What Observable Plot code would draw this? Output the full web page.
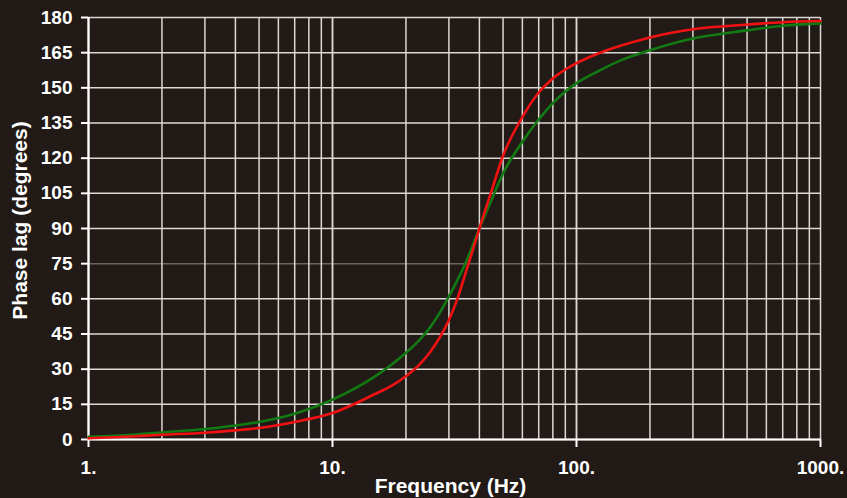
<!DOCTYPE html>
<html>
<head>
<meta charset="utf-8">
<script src="https://cdn.jsdelivr.net/npm/d3@7"></script>
<script src="https://cdn.jsdelivr.net/npm/@observablehq/plot@0.6"></script>
<style>
  html, body { margin: 0; padding: 0; background: #221a16; }
  #chart { width: 847px; height: 498px; overflow: hidden; }
</style>
</head>
<body>
<div id="chart"></div>
<script>
const freq = [1, 1.5, 2, 3, 4, 5, 7, 10, 15, 17.5, 20, 22.5, 25, 27.5, 30, 32.5, 35, 37.5, 40, 45, 50, 60, 70, 80, 100, 125, 150, 200, 300, 500, 700, 1000];
// Phase lag (degrees), red curve (sharper)
const redPhase = [0.5, 1.3, 2.0, 2.9, 3.9, 4.9, 7.5, 11.3, 19.5, 23, 27, 31.5, 37, 43.5, 51, 60, 70.5, 80.5, 90, 106.5, 121, 137.5, 148, 154, 160.5, 165, 167.8, 171.5, 175, 177, 178, 178.5];
// Phase lag (degrees), green curve (broader)
const greenPhase = [1.2, 2.0, 3.0, 4.5, 6.0, 7.5, 11, 17, 27, 32, 37, 42, 47.5, 54, 61, 68, 75, 82.5, 90, 102.5, 113.5, 127, 136.5, 143.5, 152, 157.5, 161.5, 166, 171, 174.5, 176.5, 177.5];

const xTicks = [1, 10, 100, 1000];
const yTicks = [0, 15, 30, 45, 60, 75, 90, 105, 120, 135, 150, 165, 180];
const xLabel = "Frequency (Hz)";
const yLabel = "Phase lag (degrees)";
const xGrid = [];
for (const dec of [1, 10, 100]) for (let k = 1; k <= 10; k++) xGrid.push(k * dec);

const red = freq.map((f, i) => ({f, v: redPhase[i]}));
const green = freq.map((f, i) => ({f, v: greenPhase[i]}));

const grid = "#dcd8d4";
const chart = Plot.plot({
  width: 847,
  height: 498,
  marginLeft: 88,
  marginRight: 27,
  marginTop: 17,
  marginBottom: 59,
  style: {background: "#221a16", color: "#ffffff", fontFamily: "'Liberation Sans', Arial, sans-serif", fontWeight: "bold", fontSize: "19px"},
  x: {type: "log", domain: [1, 1000]},
  y: {domain: [0, 180]},
  marks: [
    Plot.ruleX(xGrid, {stroke: grid, strokeWidth: 1.5}),
    Plot.ruleY(yTicks, {stroke: grid, strokeWidth: 1.5, strokeOpacity: d => d === 75 ? 0.4 : 1}),
    Plot.ruleX([1], {stroke: "#ffffff", strokeWidth: 2.2}),
    Plot.ruleY([0], {stroke: "#ffffff", strokeWidth: 2.2}),
    Plot.axisY({ticks: yTicks, tickSize: 7, tickPadding: 9, stroke: "#ffffff", strokeWidth: 2, fill: "#ffffff", fontSize: 19, fontWeight: "bold", label: null}),
    Plot.axisX({ticks: xTicks, tickSize: 8, tickPadding: 13, stroke: "#ffffff", strokeWidth: 2, fill: "#ffffff", fontSize: 19, fontWeight: "bold",
      tickFormat: d => d + ".", label: null}),
    Plot.text([yLabel], {text: d => d, frameAnchor: "left", rotate: -90, dx: -68, dy: -8, textAnchor: "middle", lineAnchor: "middle",
      fill: "#ffffff", fontSize: 21, fontWeight: "bold"}),
    Plot.text([xLabel], {text: d => d, frameAnchor: "bottom", dx: -4, dy: 47, textAnchor: "middle", lineAnchor: "middle",
      fill: "#ffffff", fontSize: 21, fontWeight: "bold"}),
    Plot.line(green, {x: "f", y: "v", stroke: "#127a12", strokeWidth: 2.6, curve: "monotone-x"}),
    Plot.line(red, {x: "f", y: "v", stroke: "#f01212", strokeWidth: 2.6, curve: "monotone-x"})
  ]
});
document.getElementById("chart").appendChild(chart);
</script>
</body>
</html>
